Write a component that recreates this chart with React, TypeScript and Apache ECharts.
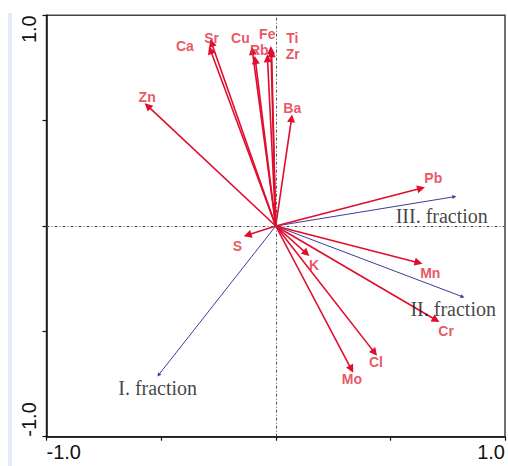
import React, { useEffect, useRef } from "react";
import * as echarts from "echarts";

// Element (response) vectors: arrow tips
const elements = ["Zn", "Ca", "Sr", "Cu", "Rb", "Fe", "Ti", "Zr", "Ba", "Pb", "S", "K", "Mn", "Cr", "Cl", "Mo"];
const elemX = [-0.559, -0.285, -0.280, -0.102, -0.089, -0.021, -0.018, -0.036, 0.069, 0.634, -0.123, 0.134, 0.623, 0.699, 0.431, 0.330];
const elemY = [0.570, 0.835, 0.869, 0.831, 0.788, 0.835, 0.820, 0.796, 0.511, 0.179, -0.043, -0.130, -0.174, -0.446, -0.601, -0.680];
// Element label anchors (data coordinates)
const elemLabelX = [-0.561, -0.396, -0.280, -0.154, -0.072, -0.037, 0.072, 0.074, 0.072, 0.687, -0.167, 0.167, 0.674, 0.743, 0.437, 0.332];
const elemLabelY = [0.612, 0.854, 0.892, 0.894, 0.833, 0.911, 0.892, 0.816, 0.558, 0.228, -0.093, -0.185, -0.223, -0.496, -0.644, -0.726];

// Explanatory (fraction) vectors
const fractions = ["I. fraction", "II. fraction", "III. fraction"];
const fracX = [-0.511, 0.815, 0.779];
const fracY = [-0.707, -0.336, 0.139];
const fracLabelX = [-0.515, 0.774, 0.724];
const fracLabelY = [-0.769, -0.392, 0.047];

const tickLabels: Record<string, string> = { "-1": "-1.0", "1": "1.0" };

export default function App() {
  const ref = useRef<HTMLDivElement>(null);
  useEffect(() => {
    if (!ref.current) return;
    const chart = echarts.init(ref.current, undefined, { renderer: "svg" });
    const red = "#e00d2e";
    const labelRed = "#e52a3a";
    const blue = "#3c3c9c";
    const fmt = (v: number) => tickLabels[String(Math.round(v * 10) / 10)] ?? "";
    chart.setOption({
      animation: false,
      backgroundColor: "#ffffff",
      grid: {
        left: 46.5,
        top: 15.3,
        width: 460,
        height: 421.4,
        show: true,
        borderColor: "#444",
        borderWidth: 1.5,
        backgroundColor: "transparent",
      },
      xAxis: {
        type: "value",
        min: -1,
        max: 1,
        interval: 0.5,
        axisLine: { show: true, onZero: false, lineStyle: { color: "#111", width: 1.5 } },
        axisTick: { show: true, length: 4, lineStyle: { color: "#111", width: 1.2 } },
        splitLine: { show: false },
        axisLabel: {
          formatter: fmt,
          fontFamily: "Liberation Sans, Arial, sans-serif",
          fontSize: 20,
          color: "#111",
          margin: 5,
          alignMinLabel: "left",
          alignMaxLabel: "right",
          showMinLabel: true,
          showMaxLabel: true,
        },
      },
      yAxis: {
        type: "value",
        min: -1,
        max: 1,
        interval: 0.5,
        axisLine: { show: true, onZero: false, lineStyle: { color: "#111", width: 1.5 } },
        axisTick: { show: true, length: 4, lineStyle: { color: "#111", width: 1.2 } },
        splitLine: { show: false },
        axisLabel: {
          formatter: fmt,
          rotate: 90,
          fontFamily: "Liberation Sans, Arial, sans-serif",
          fontSize: 20,
          color: "#111",
          margin: 8,
          alignMinLabel: "left",
          alignMaxLabel: "right",
          showMinLabel: true,
          showMaxLabel: true,
        },
      },
      graphic: [
        { type: "rect", left: 8, top: 13, shape: { width: 4, height: 453 }, style: { fill: "#e4ebf6" }, silent: true },
      ],
      series: [
        {
          type: "line",
          data: [],
          markLine: {
            silent: true,
            symbol: "none",
            label: { show: false },
            lineStyle: { color: "#555", width: 1, type: [3, 2, 1, 2] },
            data: [{ xAxis: 0 }, { yAxis: 0 }],
          },
        },
        {
          type: "lines",
          coordinateSystem: "cartesian2d",
          symbol: ["none", "triangle"],
          symbolSize: 4,
          lineStyle: { color: blue, width: 1, opacity: 1 },
          z: 3,
          data: fracX.map((x, i) => ({ coords: [[0, 0], [x, fracY[i]]] })),
        },
        {
          type: "lines",
          coordinateSystem: "cartesian2d",
          symbol: ["none", "triangle"],
          symbolSize: 8,
          lineStyle: { color: red, width: 1.6, opacity: 1 },
          z: 4,
          data: elemX.map((x, i) => ({ coords: [[0, 0], [x, elemY[i]]] })),
        },
        {
          type: "scatter",
          symbolSize: 0,
          z: 5,
          label: {
            show: true,
            position: "inside",
            formatter: (p: any) => p.name,
            color: labelRed,
            fontFamily: "Liberation Sans, Arial, sans-serif",
            fontWeight: "bold",
            fontSize: 14,
          },
          data: elements.map((n, i) => ({ name: n, value: [elemLabelX[i], elemLabelY[i]] })),
        },
        {
          type: "scatter",
          symbolSize: 0,
          z: 5,
          label: {
            show: true,
            position: "inside",
            formatter: (p: any) => p.name,
            color: "#111",
            fontFamily: "Liberation Serif, Times New Roman, serif",
            fontSize: 20,
          },
          data: fractions.map((n, i) => ({ name: n, value: [fracLabelX[i], fracLabelY[i]] })),
        },
      ],
    });
    return () => chart.dispose();
  }, []);
  return (
    <div
      ref={ref}
      style={{ position: "fixed", left: 0, top: 0, width: 508, height: 466, background: "#fff" }}
    />
  );
}
